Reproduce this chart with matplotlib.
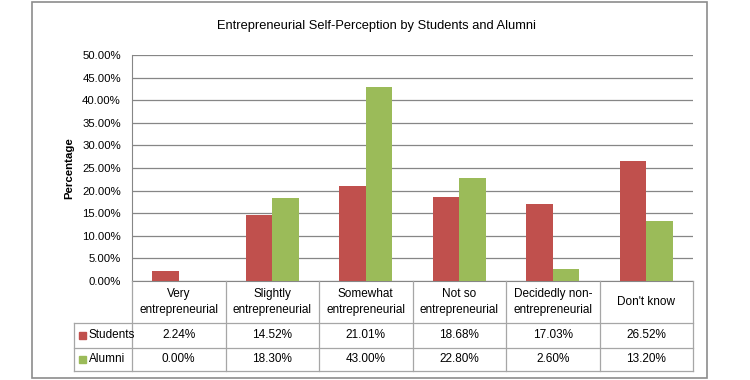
import numpy as np
import matplotlib
matplotlib.use('Agg')
from matplotlib import pyplot as plt
from matplotlib.patches import Rectangle

plt.rcParams['font.family'] = ['Liberation Sans Narrow', 'Liberation Sans', 'DejaVu Sans']

categories = ['Very\nentrepreneurial', 'Slightly\nentrepreneurial', 'Somewhat\nentrepreneurial',
              'Not so\nentrepreneurial', 'Decidedly non-\nentrepreneurial', "Don't know"]
students = [2.24, 14.52, 21.01, 18.68, 17.03, 26.52]
alumni = [0.00, 18.30, 43.00, 22.80, 2.60, 13.20]
series_names = ['Students', 'Alumni']
colors = ['#C0504D', '#9BBB59']
yticks = np.arange(0, 50.01, 5)

W, H = 750, 380
fig = plt.figure(figsize=(7.5, 3.8), dpi=100)

def box(x0, y0, x1, y1):
    # pixel box (top-left origin) -> figure fraction [l, b, w, h]
    return [x0 / W, 1 - y1 / H, (x1 - x0) / W, (y1 - y0) / H]

# outer chart frame
fb = box(32, 2, 707, 378)
fig.patches.append(Rectangle((fb[0], fb[1]), fb[2], fb[3], transform=fig.transFigure,
                             fill=False, edgecolor='#8C8C8C', linewidth=1.2))

fig.text(376 / W, 1 - 26 / H, 'Entrepreneurial Self-Perception by Students and Alumni',
         ha='center', va='center', fontsize=9.3)

# main plot
ax = fig.add_axes(box(132, 55, 693, 281))
x = np.arange(len(categories))
bw = 1 / 3.5
ax.bar(x - bw / 2, students, bw, color=colors[0], zorder=3)
ax.bar(x + bw / 2, alumni, bw, color=colors[1], zorder=3)
ax.set_xlim(-0.5, len(categories) - 0.5)
ax.set_ylim(0, 50)
ax.set_yticks(yticks)
ax.set_yticklabels(['%.2f%%' % v for v in yticks], fontsize=8.2)
ax.set_xticks([])
ax.yaxis.grid(True, color='#868686', linewidth=0.9, zorder=0)
ax.tick_params(axis='y', length=0, pad=8)
for s in ['top', 'right']:
    ax.spines[s].set_visible(False)
ax.spines['left'].set_color('#868686')
ax.spines['bottom'].set_color('#868686')
ax.set_ylabel('Percentage', fontsize=8.2, fontweight='bold', labelpad=6)

# data table below the plot
tx = fig.add_axes(box(74, 281, 693, 371))
lab_w = (132 - 74) / ((693 - 132) / len(categories))
tx.set_xlim(-0.5 - lab_w, len(categories) - 0.5)
tx.set_ylim(90, 0)
tx.axis('off')
lc = '#A6A6A6'
rows = [0, 42, 67, 90]
for xb in np.arange(len(categories) + 1) - 0.5:
    tx.plot([xb, xb], [0, 90], color=lc, lw=0.9, clip_on=False)
tx.plot([-0.5 - lab_w] * 2, [42, 90], color=lc, lw=0.9, clip_on=False)
for yb in rows[1:]:
    tx.plot([-0.5 - lab_w, len(categories) - 0.5], [yb, yb], color=lc, lw=0.9, clip_on=False)
for i, c in enumerate(categories):
    tx.text(i, 21, c, ha='center', va='center', fontsize=8.5, linespacing=1.35)
for r, (name, vals, col) in enumerate(zip(series_names, [students, alumni], colors)):
    yc = (rows[r + 1] + rows[r + 2]) / 2
    for i, v in enumerate(vals):
        tx.text(i, yc, '%.2f%%' % v, ha='center', va='center', fontsize=8.5)
    tx.add_patch(Rectangle((-0.5 - lab_w + 0.05, yc - 3.5), 0.075, 7, color=col, clip_on=False))
    tx.text(-0.5 - lab_w + 0.16, yc, name, ha='left', va='center', fontsize=8.5)

fig.savefig('out.png', dpi=100)
